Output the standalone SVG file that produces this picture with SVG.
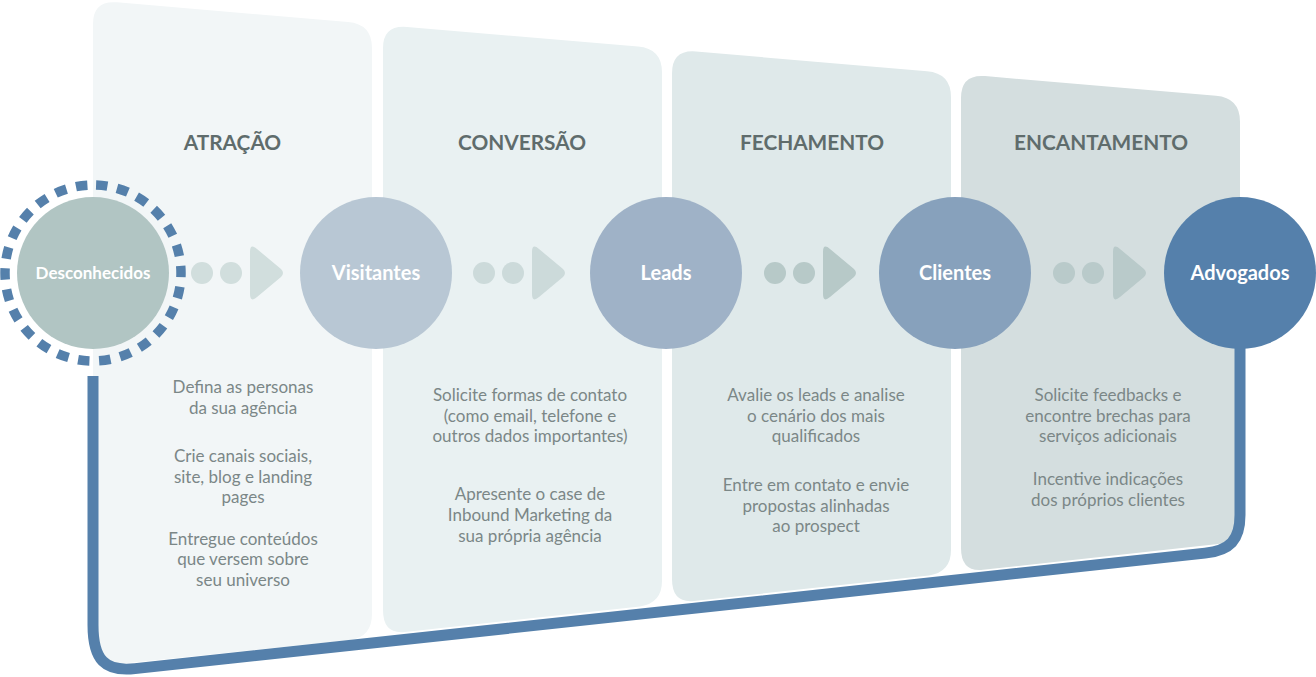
<svg xmlns="http://www.w3.org/2000/svg" width="1316" height="677" viewBox="0 0 1316 677">
<defs>
<style>
.title{font-family:Lato,"Liberation Sans",sans-serif;font-weight:700;font-size:20.8px;fill:#5f6c6c;text-anchor:middle}
.body{font-family:Lato,"Liberation Sans",sans-serif;font-size:17px;fill:#7b8787;text-anchor:middle}
.lbl{font-family:Lato,"Liberation Sans",sans-serif;font-weight:700;font-size:20px;fill:#ffffff;text-anchor:middle}
.lbl-s{font-size:17px}
.blue{fill:none;stroke:#5580ab;stroke-width:11}
</style>
</defs>
<rect width="1316" height="677" fill="#ffffff"/>
<g id="panels">
<path id="panel-atracao" fill="#f2f6f7" d="M93 24 Q93 0.3 117 2.3 L348 22 Q372 24 372 48 L372 614 Q372 637 350 640 L128 663 Q93 667 93 630 Z"/>
<path id="panel-conversao" fill="#e9f1f2" d="M383 48 Q383 24.9 407 26.9 L638 46.6 Q662 48.6 662 72.6 L662 581 Q662 603 640 606.5 L405 632 Q383 634.4 383 610 Z"/>
<path id="panel-fechamento" fill="#dfe9ea" d="M672 73.5 Q672 49.5 696 51.5 L927 71.2 Q951 73.2 951 97.2 L951 550 Q951 572 929 575.5 L694 601 Q672 603.3 672 579 Z"/>
<path id="panel-encantamento" fill="#d4dedf" d="M961 98 Q961 74.1 985 76.1 L1216 95.8 Q1240 97.8 1240 121.8 L1240 519 Q1240 541 1218 544 L983 569.8 Q961 572.2 961 548 Z"/>
</g>
<g id="titles">
<text class="title" x="232.5" y="150">ATRAÇÃO</text>
<text class="title" x="522" y="150">CONVERSÃO</text>
<text class="title" x="812" y="150">FECHAMENTO</text>
<text class="title" x="1101" y="150">ENCANTAMENTO</text>
</g>
<g id="connectors">
<path class="blue" d="M93 376 L93 625 C93 660 105 672 135 668.6 L1205 553.1 C1230 550.4 1240 540 1240 515 L1240 346"/>
<g id="flow-1" fill="#d1dedd">
<circle cx="202" cy="273" r="11"/><circle cx="231" cy="273" r="11"/>
<path d="M250 252 Q250 243 257 249 L281 269 Q285 273 281 277 L257 297 Q250 303 250 294 Z"/>
</g>
<g id="flow-2" fill="#ccdada">
<circle cx="484" cy="273" r="11"/><circle cx="513" cy="273" r="11"/>
<path d="M532 252 Q532 243 539 249 L563 269 Q567 273 563 277 L539 297 Q532 303 532 294 Z"/>
</g>
<g id="flow-3" fill="#b7c9c8">
<circle cx="775" cy="273" r="11"/><circle cx="804" cy="273" r="11"/>
<path d="M823 252 Q823 243 830 249 L854 269 Q858 273 854 277 L830 297 Q823 303 823 294 Z"/>
</g>
<g id="flow-4" fill="#b9caca">
<circle cx="1064" cy="273" r="11"/><circle cx="1093" cy="273" r="11"/>
<path d="M1113 252 Q1113 243 1120 249 L1144 269 Q1148 273 1144 277 L1120 297 Q1113 303 1113 294 Z"/>
</g>
</g>
<g id="node-desconhecidos">
<circle cx="93" cy="273" r="88" fill="none" stroke="#5580ab" stroke-width="9.5" stroke-dasharray="11.5 9.77" transform="rotate(-88 93 273)"/>
<circle cx="93" cy="273" r="76" fill="#b1c5c3"/>
<text class="lbl lbl-s" x="93" y="279">Desconhecidos</text>
</g>
<g id="node-visitantes">
<circle cx="376" cy="273" r="76" fill="#b8c7d4"/>
<text class="lbl" x="376" y="280">Visitantes</text>
</g>
<g id="node-leads">
<circle cx="666" cy="273" r="76" fill="#9fb2c7"/>
<text class="lbl" x="666" y="280">Leads</text>
</g>
<g id="node-clientes">
<circle cx="955" cy="273" r="76" fill="#87a1bc"/>
<text class="lbl" x="955" y="280">Clientes</text>
</g>
<g id="node-advogados">
<circle cx="1240" cy="273" r="76" fill="#5580ab"/>
<text class="lbl" x="1240" y="280">Advogados</text>
</g>
<g id="texts">
<text class="body" x="243"><tspan x="243" y="393">Defina as personas</tspan><tspan x="243" y="414">da sua agência</tspan><tspan x="243" y="462">Crie canais sociais,</tspan><tspan x="243" y="483">site, blog e landing</tspan><tspan x="243" y="503">pages</tspan><tspan x="243" y="545">Entregue conteúdos</tspan><tspan x="243" y="565">que versem sobre</tspan><tspan x="243" y="586">seu universo</tspan></text>
<text class="body" x="530"><tspan x="530" y="401">Solicite formas de contato</tspan><tspan x="530" y="422">(como email, telefone e</tspan><tspan x="530" y="442">outros dados importantes)</tspan><tspan x="530" y="500">Apresente o case de</tspan><tspan x="530" y="521">Inbound Marketing da</tspan><tspan x="530" y="542">sua própria agência</tspan></text>
<text class="body" x="816"><tspan x="816" y="401">Avalie os leads e analise</tspan><tspan x="816" y="422">o cenário dos mais</tspan><tspan x="816" y="442">qualificados</tspan><tspan x="816" y="491">Entre em contato e envie</tspan><tspan x="816" y="512">propostas alinhadas</tspan><tspan x="816" y="532">ao prospect</tspan></text>
<text class="body" x="1108"><tspan x="1108" y="401">Solicite feedbacks e</tspan><tspan x="1108" y="422">encontre brechas para</tspan><tspan x="1108" y="442">serviços adicionais</tspan><tspan x="1108" y="485">Incentive indicações</tspan><tspan x="1108" y="506">dos próprios clientes</tspan></text>
</g>
</svg>
